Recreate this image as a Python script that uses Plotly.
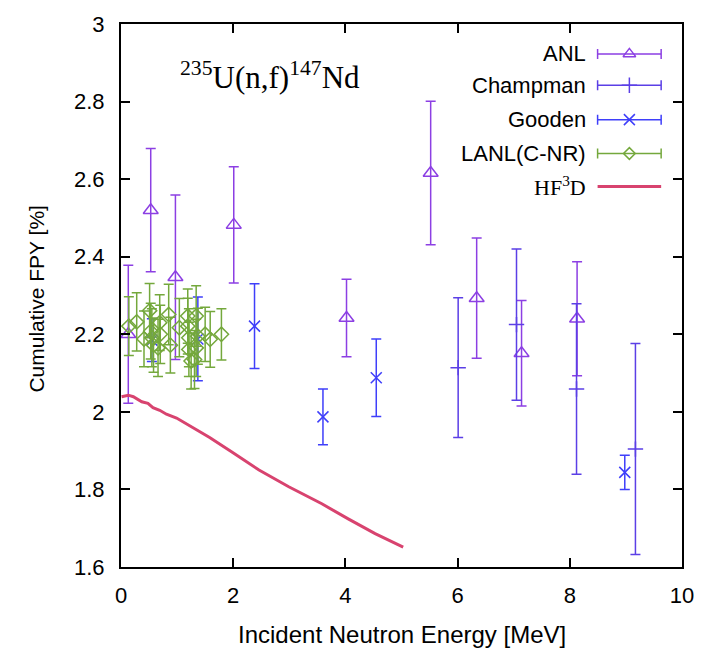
import plotly.graph_objects as go

# ---- measured cumulative fission product yield of 147Nd from 235U(n,f) ----
anl_e = [0.13, 0.53, 0.97, 2.01, 4.02, 5.52, 6.34, 7.14, 8.13]
anl_y = [2.200, 2.520, 2.347, 2.482, 2.242, 2.616, 2.293, 2.151, 2.240]
anl_err = [0.178, 0.159, 0.212, 0.150, 0.100, 0.185, 0.155, 0.136, 0.147]

champman_e = [6.01, 7.05, 8.12, 9.17]
champman_y = [2.114, 2.225, 2.059, 1.904]
champman_err = [0.180, 0.195, 0.220, 0.272]

gooden_e = [0.55, 1.37, 2.38, 3.60, 4.55, 8.98]
gooden_y = [2.185, 2.188, 2.221, 1.987, 2.088, 1.844]
gooden_err = [0.055, 0.108, 0.109, 0.072, 0.100, 0.044]

lanl_e = [0.14, 0.28, 0.41, 0.51, 0.53, 0.55, 0.58, 0.66, 0.69, 0.70, 0.85, 0.88,
          1.04, 1.19, 1.19, 1.21, 1.21, 1.25, 1.31, 1.34, 1.34, 1.37, 1.50, 1.59, 1.79]
lanl_y = [2.221, 2.232, 2.188, 2.261, 2.208, 2.191, 2.172, 2.165, 2.230, 2.200, 2.251, 2.172,
          2.217, 2.247, 2.221, 2.191, 2.161, 2.131, 2.135, 2.247, 2.165, 2.195, 2.200, 2.187, 2.200]
lanl_err = [0.076, 0.075, 0.072, 0.070, 0.072, 0.075, 0.070, 0.074, 0.072, 0.075, 0.078, 0.072,
            0.075, 0.070, 0.072, 0.075, 0.070, 0.072, 0.075, 0.078, 0.074, 0.072, 0.070, 0.072, 0.066]

# ---- HF3D calculation ----
hf3d_e = [0.01, 0.13, 0.22, 0.37, 0.48, 0.57, 0.69, 0.81, 0.99, 1.22, 1.58, 1.99,
          2.46, 2.99, 3.58, 4.05, 4.53, 5.03]
hf3d_y = [2.039, 2.043, 2.039, 2.026, 2.022, 2.011, 2.004, 1.994, 1.984, 1.964, 1.934, 1.895,
          1.850, 1.807, 1.763, 1.724, 1.686, 1.651]

x_ticks = [0, 2, 4, 6, 8, 10]
y_ticks = [1.6, 1.8, 2.0, 2.2, 2.4, 2.6, 2.8, 3.0]
y_tick_text = ["1.6", "1.8", "2", "2.2", "2.4", "2.6", "2.8", "3"]

C_ANL = "#8c3fe3"
C_CHAMP = "#5b3fe6"
C_GOODEN = "#3f3ffa"
C_LANL = "#74a83c"
C_HF3D = "#d8436f"

SANS = "Liberation Sans, Arial, sans-serif"
SERIF = "Liberation Serif, Times New Roman, serif"

fig = go.Figure()


def data_trace(x, y, err, color, symbol, size, name):
    return go.Scatter(
        x=x, y=y, mode="markers", name=name,
        marker=dict(symbol=symbol, size=size, color=color,
                    line=dict(color=color, width=1.5)),
        error_y=dict(type="data", array=err, visible=True, color=color,
                     thickness=1.5, width=5),
        cliponaxis=True,
    )


fig.add_trace(data_trace(anl_e, anl_y, anl_err, C_ANL, "triangle-up-open", 13, "ANL"))
fig.add_trace(data_trace(champman_e, champman_y, champman_err, C_CHAMP, "cross-thin-open", 11, "Champman"))
fig.add_trace(data_trace(gooden_e, gooden_y, gooden_err, C_GOODEN, "x-thin-open", 11, "Gooden"))
fig.add_trace(data_trace(lanl_e, lanl_y, lanl_err, C_LANL, "diamond-open", 11, "LANL(C-NR)"))
fig.add_trace(go.Scatter(x=hf3d_e, y=hf3d_y, mode="lines", name="HF3D",
                         line=dict(color=C_HF3D, width=3)))

# ---- key drawn on a hidden pixel-scaled overlay axis ----
key_rows = [
    ("ANL", C_ANL, "triangle-up-open", 11, True, SANS),
    ("Champman", C_CHAMP, "cross-thin-open", 11, True, SANS),
    ("Gooden", C_GOODEN, "x-thin-open", 11, True, SANS),
    ("LANL(C-NR)", C_LANL, "diamond-open", 9, True, SANS),
    ("HF<sup>3</sup>D", C_HF3D, None, 0, False, SERIF),
]
key_y = [30, 61.5, 96, 130, 163]
key_x0, key_x1, key_txt = 480, 544, 470

for (label, color, sym, size, bars, fam), ky in zip(key_rows, key_y):
    xc = (key_x0 + key_x1) / 2
    if bars:
        fig.add_trace(go.Scatter(
            x=[xc], y=[ky], xaxis="x2", yaxis="y2", mode="markers", showlegend=False,
            marker=dict(symbol=sym, size=size, color=color,
                        line=dict(color=color, width=1.5)),
            error_x=dict(type="constant", value=(key_x1 - key_x0) / 2, color=color,
                         thickness=1.5, width=5),
            hoverinfo="skip"))
    else:
        fig.add_trace(go.Scatter(
            x=[key_x0, key_x1], y=[ky, ky], xaxis="x2", yaxis="y2", mode="lines",
            showlegend=False, line=dict(color=color, width=3), hoverinfo="skip"))
    fig.add_annotation(x=key_txt, y=ky, xref="x2", yref="y2", text=label,
                       showarrow=False, xanchor="right", yanchor="middle",
                       font=dict(family=fam, size=22, color="black"))

# reaction label
fig.add_annotation(x=57, y=52, xref="x2", yref="y2",
                   text="<sup>235</sup>U(n,f)<sup>147</sup>Nd", showarrow=False,
                   xanchor="left", yanchor="middle",
                   font=dict(family=SERIF, size=31, color="black"))

# axis titles
fig.add_annotation(x=0.5, y=-0.125, xref="paper", yref="paper",
                   text="Incident Neutron Energy [MeV]", showarrow=False,
                   xanchor="center", yanchor="middle",
                   font=dict(family=SANS, size=24, color="black"))
fig.add_annotation(x=-0.15, y=0.494, xref="paper", yref="paper",
                   text="Cumulative FPY [%]", showarrow=False, textangle=-90,
                   xanchor="center", yanchor="middle",
                   font=dict(family=SANS, size=21, color="black"))

axis_common = dict(
    showgrid=False, zeroline=False, showline=True, linecolor="black", linewidth=2,
    mirror="ticks", ticks="inside", ticklen=9, tickwidth=1.5, tickcolor="black",
    tickfont=dict(family=SANS, size=22, color="black"),
)

fig.update_layout(
    width=706, height=653,
    margin=dict(l=121, r=20, t=22, b=86),
    plot_bgcolor="white", paper_bgcolor="white",
    showlegend=False,
    xaxis=dict(range=[0, 10], tickvals=x_ticks, ticklabelstandoff=8, **axis_common),
    yaxis=dict(range=[1.6, 3.0], tickvals=y_ticks, ticktext=y_tick_text,
               ticklabelstandoff=10, **axis_common),
    xaxis2=dict(overlaying="x", anchor="y2", range=[0, 565], visible=False),
    yaxis2=dict(overlaying="y", anchor="x2", range=[545, 0], visible=False),
)

fig.write_html("out.html")
